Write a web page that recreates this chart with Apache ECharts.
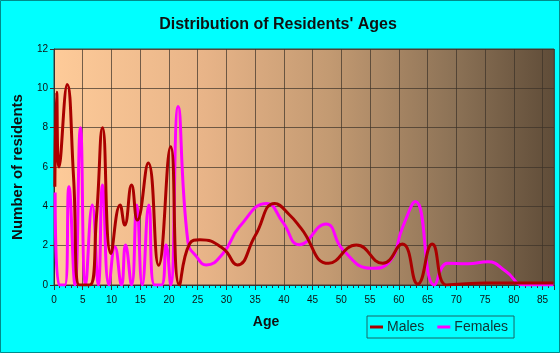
<!DOCTYPE html>
<html>
<head>
<meta charset="utf-8">
<script src="https://cdn.jsdelivr.net/npm/echarts@6/dist/echarts.min.js"></script>
<style>
  html, body { margin: 0; padding: 0; background: #00ffff; }
  #chart { width: 560px; height: 353px; }
</style>
</head>
<body>
<div id="chart"></div>
<script>
// ages (peaks, troughs and a few in-between points)
const maleAges = [0.15, 0.46, 0.87, 2.3, 3.4, 4.4, 6.2, 7.4, 8.45, 9.9, 11.5, 12.3, 13.5, 14.5, 16.4, 18.2, 20.3, 21.8, 23.6, 25.4, 29.4, 31.9, 35, 38.4, 41, 43, 47.8, 52.6, 57.2, 60.6, 63.3, 65.8, 68.3, 71, 75, 86.9];
const maleCounts = [5.0, 9.8, 6.0, 10.2, 5.5, 0, 0, 3.5, 8.0, 1.6, 4.07, 3.05, 5.08, 3.3, 6.2, 1.0, 7.03, 0, 2.1, 2.3, 1.86, 1.02, 2.5, 4.15, 3.56, 2.88, 1.1, 2.03, 1.1, 2.08, 0.05, 2.08, 0, 0.05, 0.1, 0.1];

const femaleAges = [0.2, 0.9, 1.9, 2.6, 3.65, 4.6, 5.5, 6.66, 7.7, 8.45, 9.55, 10.6, 11.75, 12.45, 13.5, 14.4, 15.35, 16.5, 17.5, 18.7, 19.5, 20.3, 21.6, 23.3, 24.8, 26.5, 29.4, 32.3, 37, 39.8, 42.7, 47.3, 50.3, 55.2, 58.4, 60.7, 62.9, 66.2, 68.5, 72, 75.5, 78.6, 81.8, 86.9];
const femaleCounts = [4.7, 0, 0, 5.0, 0, 8.0, 0, 4.07, 0, 5.08, 0, 1.95, 0, 2.03, 0, 4.07, 0, 4.07, 0, 0, 2.03, 0, 9.07, 2.2, 1.44, 1.02, 1.6, 2.97, 4.15, 3.2, 2.05, 3.1, 1.78, 0.85, 1.19, 2.97, 4.24, 0, 1.1, 1.08, 1.18, 0.7, 0, 0];

const seriesNames = ["Males", "Females"];
const seriesColors = ["#aa0000", "#ff00ff"];

function zip(xs, ys) {
  return xs.map((x, i) => [x, ys[i]]);
}

const chart = echarts.init(document.getElementById("chart"), null, { renderer: "canvas" });

const gridLine = { color: "rgba(60, 50, 40, 0.7)", width: 1 };

chart.setOption({
  backgroundColor: "#00ffff",
  animation: false,
  title: {
    text: "Distribution of Residents' Ages",
    left: 273,
    textAlign: "center",
    top: 12,
    textStyle: { fontFamily: "Liberation Sans", fontSize: 16, fontWeight: "bold", color: "#111" },
  },
  graphic: [
    {
      type: "rect",
      shape: { x: 0.5, y: 0.5, width: 559, height: 352 },
      style: { fill: "none", stroke: "#008b8b", lineWidth: 1 },
      silent: true,
    },
  ],
  legend: {
    data: seriesNames,
    left: 367,
    top: 316,
    width: 154,
    padding: [4, 6, 4, 3],
    itemGap: 13,
    itemWidth: 13,
    itemHeight: 3,
    icon: "rect",
    borderColor: "#1a6666",
    borderWidth: 1,
    textStyle: { fontFamily: "Liberation Sans", fontSize: 14, color: "#123333", padding: [0, 0, 0, -1] },
  },
  grid: {
    left: 54,
    right: 6,
    top: 49,
    bottom: 68,
    show: true,
    borderColor: "#4a4038",
    borderWidth: 1,
    backgroundColor: new echarts.graphic.LinearGradient(0, 0, 1, 0, [
      { offset: 0, color: "#fecb99" },
      { offset: 0.3, color: "#e8b488" },
      { offset: 0.55, color: "#c39a72" },
      { offset: 0.8, color: "#8c7256" },
      { offset: 1, color: "#5f4c38" },
    ]),
  },
  xAxis: {
    type: "value",
    min: 0,
    max: 87,
    interval: 5,
    name: "Age",
    nameLocation: "middle",
    nameGap: 30,
    nameTextStyle: { fontFamily: "Liberation Sans", fontSize: 14, fontWeight: "bold", color: "#111", padding: [0, 76, 0, 0] },
    axisLine: { show: true, lineStyle: { color: "#333" } },
    axisTick: { show: true, length: 5, lineStyle: { color: "#333" } },
    minorTick: { show: true, splitNumber: 5, length: 3, lineStyle: { color: "#333" } },
    axisLabel: { showMaxLabel: false, margin: 10, fontFamily: "Liberation Sans", fontSize: 10, color: "#111" },
    splitLine: { show: true, lineStyle: gridLine },
  },
  yAxis: {
    type: "value",
    min: 0,
    max: 12,
    interval: 2,
    name: "Number of residents",
    nameLocation: "middle",
    nameGap: 29,
    nameTextStyle: { fontFamily: "Liberation Sans", fontSize: 15, fontWeight: "bold", color: "#111" },
    axisLine: { show: true, lineStyle: { color: "#333" } },
    axisTick: { show: true, length: 4, lineStyle: { color: "#333" } },
    axisLabel: { margin: 6, fontFamily: "Liberation Sans", fontSize: 10, color: "#111" },
    splitLine: { show: true, lineStyle: gridLine },
  },
  series: [
    {
      name: seriesNames[0],
      type: "line",
      smooth: 0.5,
      showSymbol: false,
      data: zip(maleAges, maleCounts),
      lineStyle: { color: seriesColors[0], width: 3 },
      itemStyle: { color: seriesColors[0] },
      z: 3,
    },
    {
      name: seriesNames[1],
      type: "line",
      smooth: 0.5,
      showSymbol: false,
      data: zip(femaleAges, femaleCounts),
      lineStyle: { color: seriesColors[1], width: 3 },
      itemStyle: { color: seriesColors[1] },
      z: 2,
    },
  ],
});
</script>
</body>
</html>
